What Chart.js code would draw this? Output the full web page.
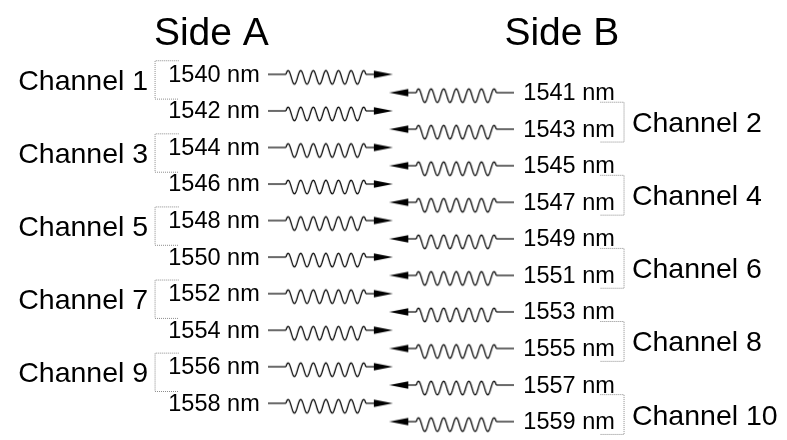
<!DOCTYPE html>
<html>
<head>
<meta charset="utf-8">
<script src="https://cdn.jsdelivr.net/npm/chart.js@4/dist/chart.umd.min.js"></script>
<style>
  html, body { margin: 0; padding: 0; background: #fff; }
  #wrap { width: 787px; height: 440px; }
</style>
</head>
<body>
<div id="wrap"><canvas id="wdm_chart"></canvas></div>
<script>
// wavelengths sent from each side, one arrow per wavelength
var sideTitles = ['Side A', 'Side B'];
var sideAWavelengths = [1540, 1542, 1544, 1546, 1548, 1550, 1552, 1554, 1556, 1558];
var sideBWavelengths = [1541, 1543, 1545, 1547, 1549, 1551, 1553, 1555, 1557, 1559];
// each channel groups two consecutive wavelengths of its side
var sideAChannels = ['Channel 1', 'Channel 3', 'Channel 5', 'Channel 7', 'Channel 9'];
var sideBChannels = ['Channel 2', 'Channel 4', 'Channel 6', 'Channel 8', 'Channel 10'];

var FONT = '"Liberation Sans", Arial, sans-serif';

/**
 * draw a wavy arrow into a small canvas, used as the point style of each row.
 * @param  {Boolean} flip true to point left (side B), else right (side A)
 */
function makeArrow(flip) {
    var c = document.createElement('canvas');
    c.width = 125;
    c.height = 24;
    var g = c.getContext('2d');
    if (flip) {
        g.translate(125, 0);
        g.scale(-1, 1);
    }
    var ly = 11;
    g.strokeStyle = '#3a3a3a';
    g.lineWidth = 1.4;
    g.beginPath();
    g.moveTo(0, ly); g.lineTo(18, ly);
    g.moveTo(98, ly); g.lineTo(108, ly);
    g.stroke();

    // the squiggle: starts and ends on the line, six valleys in between
    var amp = 6.8, off = 3, L = 80;
    var phi = Math.acos(off / amp);
    var k = (2 * phi + 12 * Math.PI) / L;
    g.strokeStyle = '#000';
    g.lineWidth = 1.25;
    g.lineJoin = 'round';
    g.beginPath();
    for (var s = 0; s <= L; s += 0.5) {
        var yy = ly + off - amp * Math.cos(phi - k * s);
        if (s === 0) g.moveTo(18 + s, yy); else g.lineTo(18 + s, yy);
    }
    g.stroke();

    g.fillStyle = '#000';
    g.beginPath();
    g.moveTo(125, ly);
    g.lineTo(106, ly - 3.8);
    g.lineTo(106, ly + 3.8);
    g.closePath();
    g.fill();
    return c;
}

var arrowRight = makeArrow(false);
var arrowLeft = makeArrow(true);

// horizontal lanes (in x scale units, 0..787)
var X_ARROW_A = 329.5, X_ARROW_B = 452.5;
var X_LABEL_A = 258, X_LABEL_B = 525;
var X_BRACKET_A = [176, 152], X_BRACKET_B = [603, 627];
var X_CHANNEL_A = 145, X_CHANNEL_B = 635;

function bracketData(w1, w2, xs, topOff, botOff) {
    return [
        { x: xs[0], y: w1 + topOff },
        { x: xs[1], y: w1 + topOff },
        { x: xs[1], y: w2 + botOff },
        { x: xs[0], y: w2 + botOff }
    ];
}

var datasets = [
    {
        label: sideTitles[0],
        data: sideAWavelengths.map(function (w) { return { x: X_ARROW_A, y: w }; }),
        pointStyle: arrowRight,
        pointRadius: 3
    },
    {
        label: sideTitles[1],
        data: sideBWavelengths.map(function (w) { return { x: X_ARROW_B, y: w }; }),
        pointStyle: arrowLeft,
        pointRadius: 3
    }
];

var bracketStyle = {
    showLine: true,
    borderColor: '#8c8c8c',
    borderWidth: 1,
    borderDash: [1, 1],
    pointRadius: 0,
    fill: false
};

for (i = 0; i < sideAChannels.length; i++) {
    datasets.push(Object.assign({
        label: sideAChannels[i],
        data: bracketData(sideAWavelengths[2 * i], sideAWavelengths[2 * i + 1], X_BRACKET_A, -0.8, -0.7)
    }, bracketStyle));
}
for (i = 0; i < sideBChannels.length; i++) {
    datasets.push(Object.assign({
        label: sideBChannels[i],
        data: bracketData(sideBWavelengths[2 * i], sideBWavelengths[2 * i + 1], X_BRACKET_B, 0.47, 0.65)
    }, bracketStyle));
}

// text labels placed through the chart scales
var textPlugin = {
    id: 'wdmText',
    afterDatasetsDraw: function (chart) {
        var ctx = chart.ctx;
        var x = chart.scales.x, y = chart.scales.y;
        ctx.save();
        ctx.fillStyle = '#000';

        ctx.font = '39px ' + FONT;
        ctx.textAlign = 'center';
        ctx.textBaseline = 'alphabetic';
        ctx.fillText(sideTitles[0], x.getPixelForValue(209), y.getPixelForValue(1538.34));
        ctx.fillText(sideTitles[1], x.getPixelForValue(564), y.getPixelForValue(1538.34));

        ctx.font = '23.5px ' + FONT;
        ctx.textBaseline = 'middle';
        ctx.textAlign = 'right';
        sideAWavelengths.forEach(function (w) {
            ctx.fillText(w + ' nm', x.getPixelForValue(X_LABEL_A), y.getPixelForValue(w));
        });
        ctx.textAlign = 'left';
        sideBWavelengths.forEach(function (w) {
            ctx.fillText(w + ' nm', x.getPixelForValue(X_LABEL_B), y.getPixelForValue(w));
        });

        ctx.font = '28.5px ' + FONT;
        ctx.textAlign = 'right';
        sideAChannels.forEach(function (name, i) {
            var mid = (sideAWavelengths[2 * i] - 0.8 + sideAWavelengths[2 * i + 1] - 0.7) / 2 + 0.1;
            ctx.fillText(name, x.getPixelForValue(X_CHANNEL_A), y.getPixelForValue(mid));
        });
        ctx.textAlign = 'left';
        sideBChannels.forEach(function (name, i) {
            var mid = (sideBWavelengths[2 * i] + 0.47 + sideBWavelengths[2 * i + 1] + 0.65) / 2 + 0.12;
            ctx.fillText(name, x.getPixelForValue(X_CHANNEL_B), y.getPixelForValue(mid));
        });
        ctx.restore();
    }
};

var ctx = document.getElementById('wdm_chart').getContext('2d');
var wdmChart = new Chart(ctx, {
    type: 'scatter',
    data: { datasets: datasets },
    plugins: [textPlugin],
    options: {
        responsive: true,
        maintainAspectRatio: false,
        animation: false,
        events: [],
        layout: { padding: 0 },
        plugins: {
            legend: { display: false },
            tooltip: { enabled: false }
        },
        scales: {
            x: { type: 'linear', display: false, min: 0, max: 787 },
            y: { type: 'linear', display: false, reverse: true, min: 1536.15, max: 1559.68 }
        }
    }
});
</script>
</body>
</html>
